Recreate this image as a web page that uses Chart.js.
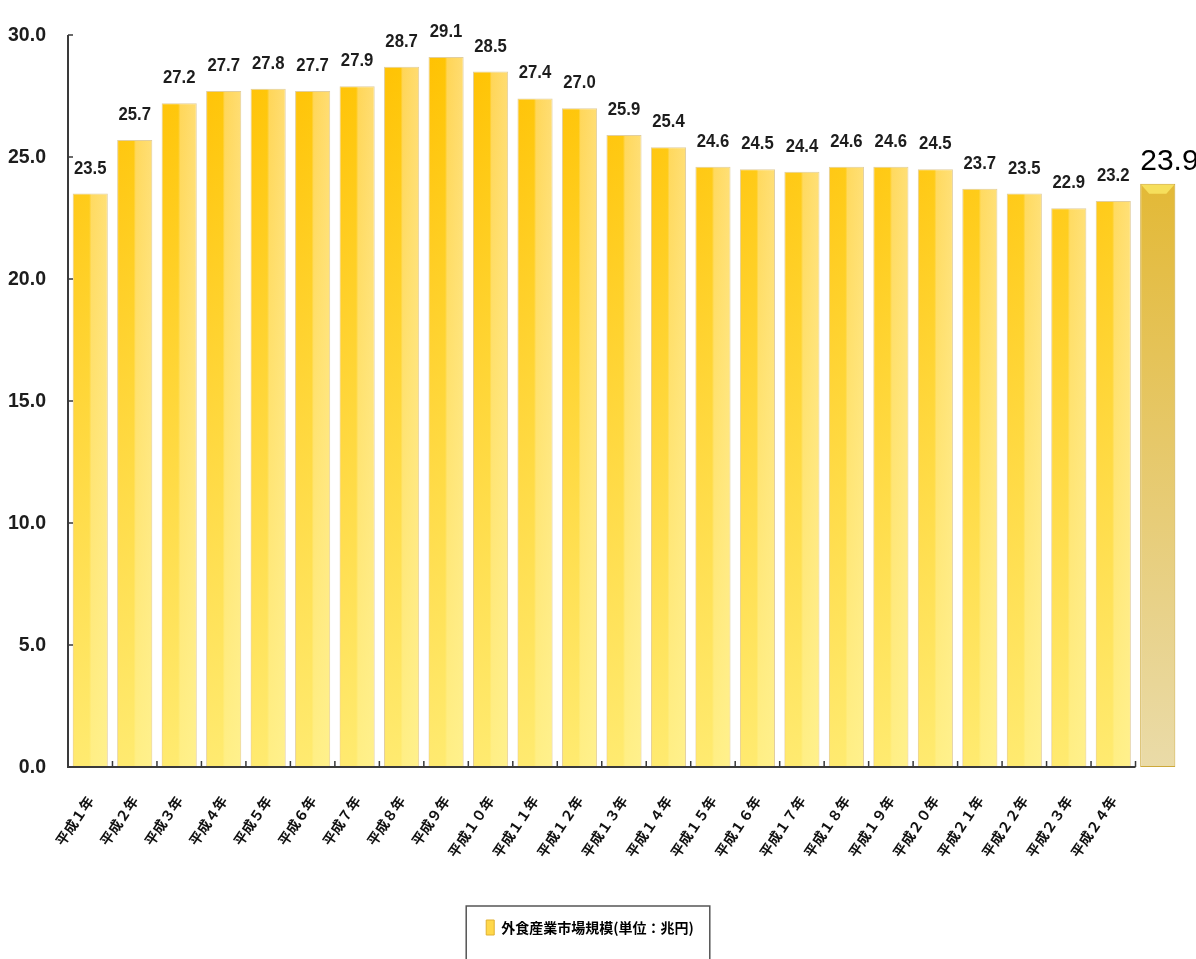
<!DOCTYPE html>
<html>
<head>
<meta charset="utf-8">
<title>外食産業市場規模</title>
<style>
    body {
        margin: 0;
        background: #fff;
    }

    .chart {
        width: 1196px;
        height: 959px;
    }
</style>
</head>
<body>
<div class="chart"><canvas id="marketChart"></canvas></div>

<script src="https://cdn.jsdelivr.net/npm/chart.js"></script>
<script>
    var years = ['平成１年', '平成２年', '平成３年', '平成４年', '平成５年', '平成６年', '平成７年', '平成８年',
        '平成９年', '平成１０年', '平成１１年', '平成１２年', '平成１３年', '平成１４年', '平成１５年', '平成１６年',
        '平成１７年', '平成１８年', '平成１９年', '平成２０年', '平成２１年', '平成２２年', '平成２３年', '平成２４年'];
    var marketSize = [23.5, 25.7, 27.2, 27.7, 27.8, 27.7, 27.9, 28.7, 29.1, 28.5, 27.4, 27.0,
        25.9, 25.4, 24.6, 24.5, 24.4, 24.6, 24.6, 24.5, 23.7, 23.5, 22.9, 23.2];
    var latestValue = 23.9;
    var yTicks = [0, 5, 10, 15, 20, 25, 30];
    var seriesName = '外食産業市場規模(単位：兆円)';

    var numFont = '"Liberation Sans", Arial, sans-serif';
    var jpFont = '"Noto Sans CJK JP", sans-serif';
    var barPct = 0.79;

    var labels = years.concat(['']);
    var values = marketSize.concat([latestValue]);

    function halfBar(chart) {
        var x = chart.scales.x;
        return (x.getPixelForValue(1) - x.getPixelForValue(0)) * barPct / 2;
    }

    function barFill(ctx) {
        var chart = ctx.chart;
        var area = chart.chartArea;
        if (!area || !chart.scales.x) return '#FFD24D';
        var cx = chart.scales.x.getPixelForValue(ctx.dataIndex);
        var half = halfBar(chart);
        var g;
        if (ctx.dataIndex === years.length) {
            g = chart.ctx.createLinearGradient(0, area.top + 150, 0, area.bottom);
            g.addColorStop(0, '#E3B937');
            g.addColorStop(1, '#EADBA8');
            return g;
        }
        g = chart.ctx.createLinearGradient(cx - half, 0, cx + half, 0);
        g.addColorStop(0, '#FFC000');
        g.addColorStop(0.47, '#FFC300');
        g.addColorStop(0.53, '#FFD455');
        g.addColorStop(1, '#FFDB70');
        return g;
    }

    // condensed text: the original uses a narrow bold face
    function narrowText(ctx, text, x, y, squeeze) {
        ctx.save();
        ctx.translate(x, y);
        ctx.scale(squeeze, 1);
        ctx.fillText(text, 0, 0);
        ctx.restore();
    }

    var decorPlugin = {
        id: 'decor',
        afterDatasetsDraw: function (chart) {
            var ctx = chart.ctx;
            var area = chart.chartArea;
            var xs = chart.scales.x;
            var ys = chart.scales.y;
            var bars = chart.getDatasetMeta(0).data;
            var step = xs.getPixelForValue(1) - xs.getPixelForValue(0);

            ctx.save();
            // pale wash toward the bottom of the bars
            var wash = ctx.createLinearGradient(0, area.top, 0, area.bottom);
            wash.addColorStop(0, 'rgba(255,250,160,0)');
            wash.addColorStop(1, 'rgba(255,248,150,0.75)');
            bars.forEach(function (el, i) {
                if (i >= years.length) return;
                ctx.fillStyle = wash;
                ctx.fillRect(el.x - el.width / 2 + 1, el.y + 1, el.width - 2, el.base - el.y - 1);
            });

            // bevel on the last bar
            var last = bars[years.length];
            var l = last.x - last.width / 2, r = last.x + last.width / 2;
            ctx.fillStyle = '#F6DF5C';
            ctx.beginPath();
            ctx.moveTo(l + 1, last.y + 1);
            ctx.lineTo(r - 1, last.y + 1);
            ctx.lineTo(r - 9, last.y + 10);
            ctx.lineTo(l + 9, last.y + 10);
            ctx.closePath();
            ctx.fill();

            // axes
            var axisEnd = xs.getPixelForValue(years.length - 1) + step / 2;
            ctx.strokeStyle = '#3a3a3a';
            ctx.lineWidth = 2;
            ctx.beginPath();
            ctx.moveTo(area.left, area.top);
            ctx.lineTo(area.left, area.bottom);
            ctx.lineTo(axisEnd, area.bottom);
            ctx.stroke();
            ctx.lineWidth = 1.5;
            ctx.beginPath();
            for (var k = 1; k <= years.length; k++) {
                var tx = xs.getPixelForValue(k - 1) + step / 2;
                ctx.moveTo(tx, area.bottom);
                ctx.lineTo(tx, area.bottom - 6);
            }
            yTicks.forEach(function (v) {
                var ty = ys.getPixelForValue(v);
                ctx.moveTo(area.left, ty);
                ctx.lineTo(area.left + 5, ty);
            });
            ctx.stroke();

            // y tick labels
            ctx.fillStyle = '#1d1d1d';
            ctx.textAlign = 'right';
            ctx.textBaseline = 'middle';
            ctx.font = 'bold 21px ' + numFont;
            yTicks.forEach(function (v) {
                narrowText(ctx, v.toFixed(1), area.left - 22, ys.getPixelForValue(v), 0.93);
            });

            // value labels
            ctx.textAlign = 'center';
            ctx.textBaseline = 'alphabetic';
            ctx.font = 'bold 19px ' + numFont;
            bars.forEach(function (el, i) {
                if (i >= years.length) return;
                narrowText(ctx, values[i].toFixed(1), el.x, el.y - 20, 0.88);
            });
            ctx.fillStyle = '#000';
            ctx.textAlign = 'left';
            ctx.font = '30px ' + numFont;
            ctx.fillText(latestValue.toFixed(1), l, last.y - 14);
            ctx.restore();
        },
        afterDraw: function (chart) {
            var hb = chart.legend && chart.legend.legendHitBoxes[0];
            if (!hb) return;
            var ctx = chart.ctx;
            var top = hb.top - 14;
            ctx.save();
            ctx.strokeStyle = '#555';
            ctx.lineWidth = 1.5;
            ctx.strokeRect(hb.left - 20, top, hb.width + 36, chart.height - top + 5);
            ctx.restore();
        }
    };

    new Chart(document.getElementById('marketChart'), {
        type: 'bar',
        data: {
            labels: labels,
            datasets: [{
                label: seriesName,
                data: values,
                backgroundColor: barFill,
                borderColor: function (ctx) {
                    return ctx.dataIndex === years.length ? '#CDA93A' : 'rgba(200,165,80,0.55)';
                },
                borderWidth: 1,
                borderSkipped: false,
                categoryPercentage: 1,
                barPercentage: barPct
            }]
        },
        options: {
            responsive: true,
            maintainAspectRatio: false,
            animation: false,
            layout: {
                padding: { top: 35, right: 16, bottom: 14, left: 0 }
            },
            plugins: {
                tooltip: { enabled: false },
                legend: {
                    position: 'bottom',
                    labels: {
                        boxWidth: 8,
                        boxHeight: 15,
                        padding: 10,
                        color: '#1a1a1a',
                        font: { family: jpFont, size: 14, weight: 'bold' },
                        generateLabels: function () {
                            return [{
                                text: seriesName,
                                fillStyle: '#FFD84A',
                                strokeStyle: '#E0B030',
                                lineWidth: 1,
                                datasetIndex: 0
                            }];
                        }
                    }
                }
            },
            scales: {
                x: {
                    grid: { display: false },
                    border: { display: false },
                    afterFit: function (scale) { scale.height = 143; },
                    ticks: {
                        autoSkip: false,
                        maxRotation: 56,
                        minRotation: 56,
                        padding: 18,
                        color: '#111',
                        font: { family: jpFont, size: 14, weight: 'bold' }
                    }
                },
                y: {
                    min: 0,
                    max: 30,
                    grid: { display: false },
                    border: { display: false },
                    afterFit: function (scale) { scale.width = 68; },
                    afterBuildTicks: function (scale) {
                        scale.ticks = yTicks.map(function (v) { return { value: v }; });
                    },
                    ticks: { display: false }
                }
            }
        },
        plugins: [decorPlugin]
    });
</script>
</body>
</html>
